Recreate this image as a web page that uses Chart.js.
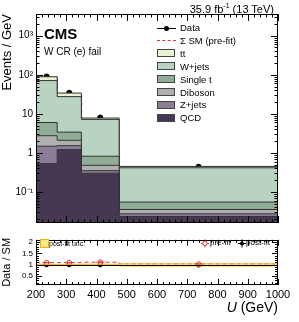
<!DOCTYPE html>
<html>
<head>
<meta charset="utf-8">
<script src="https://cdn.jsdelivr.net/npm/chart.js@4.4.1/dist/chart.umd.min.js"></script>
<style>
body { margin: 0; background: #fff; font-family: "Liberation Sans", Arial, sans-serif; }
#wrap { position: relative; width: 299px; height: 322px; overflow: hidden; }
canvas { position: absolute; left: 0; }
.t { position: absolute; white-space: nowrap; color: #000; line-height: 1; }
.sw { position: absolute; width: 18px; height: 8px; border: 1px solid #444; box-sizing: border-box; }
</style>
</head>
<body>
<div id="wrap">
  <canvas id="main" width="299" height="232" style="top:0"></canvas>
  <canvas id="ratio" width="299" height="90" style="top:232px"></canvas>

  <div class="t" style="left:44px;top:26px;font-size:15px;font-weight:bold">CMS</div>
  <div class="t" style="left:44px;top:47px;font-size:10px">W CR (e) fail</div>
  <div class="t" style="right:25px;top:2px;font-size:11px">35.9 fb<sup style="font-size:7px">-1</sup> (13 TeV)</div>

  <div id="leg"></div>

  <div class="t" style="left:40px;top:239px;width:7px;height:7px;background:#f7e98a;border:1px solid #f0b400"></div>
  <div class="t" style="left:49px;top:240px;font-size:7px">post-fit unc.</div>
  <div class="t" style="left:210px;top:239px;font-size:8px">pre-fit</div>
  <div class="t" style="left:246px;top:239px;font-size:8px">post-fit</div>

  <div class="t" style="right:21px;top:300px;font-size:14px"><i>U</i> (GeV)</div>
</div>

<script>
// bins in U (GeV)
const binEdges = [200, 270, 350, 475, 1000]
const binCenters = [235, 310, 412.5, 737.5]

// events / GeV per process
const qcd = [0.53, 1.21, 0.30, 0.0235]
const zjets = [0.95, 0.32, 0.05, 0.004]
const diboson = [1.27, 0.57, 0.13, 0.008]
const singleTop = [3.25, 1.3, 0.34, 0.0195]
const wjets = [65, 24.2, 6.38, 0.36]
const ttbar = [18, 6.4, 0.6, 0.035]

const dataVals = [90, 34.5, 8.0, 0.44]
const preFitTotal = [85, 32, 7.5, 0.43]

// ratio panel
const ratioPreFit = [1.09, 1.09, 1.11, 1.03]
const ratioPreFitErr = [0.03, 0.04, 0.05, 0.05]
const ratioPostFit = [1.0, 1.0, 1.0, 0.99]
const postFitUnc = [0.01, 0.01, 0.02, 0.05]

const xTicks = [200, 300, 400, 500, 600, 700, 800, 900, 1000]
const yMainTicks = [0.1, 1, 10, 100, 1000]
const yMainLabels = ['10\u207B\u00B9', '1', '10', '10\u00B2', '10\u00B3']
const yRatioTicks = [0.5, 1, 1.5, 2]

const processes = [
    { name: 'QCD', vals: qcd, color: '#463852' },
    { name: 'Z+jets', vals: zjets, color: '#8b7d97' },
    { name: 'Diboson', vals: diboson, color: '#afafaf' },
    { name: 'Single t', vals: singleTop, color: '#8fac94' },
    { name: 'W+jets', vals: wjets, color: '#b9d3c2' },
    { name: 'tt', vals: ttbar, color: '#e7f3d2' }
]

// one point per bin edge, value of bin i held until edge i+1
function stepPoints(vals) {
    let pts = []
    for (let i = 0; i < binEdges.length; i++) {
        pts.push({ x: binEdges[i], y: vals[Math.max(i - 1, 0)] })
    }
    return pts
}

// frame + inward ticks, placed with the chart's scales
const frameTicks = {
    id: 'frameTicks',
    afterDraw(chart, args, opts) {
        const ctx = chart.ctx
        const a = chart.chartArea
        const sx = chart.scales.x
        const sy = chart.scales.y
        ctx.save()
        ctx.strokeStyle = '#000'
        ctx.lineWidth = 1
        function seg(x1, y1, x2, y2) {
            ctx.beginPath(); ctx.moveTo(x1, y1); ctx.lineTo(x2, y2); ctx.stroke()
        }
        for (let v = 200; v <= 1000; v += 20) {
            const px = Math.round(sx.getPixelForValue(v)) + 0.5
            const len = v % 100 === 0 ? opts.xMajor : opts.xMinor
            seg(px, a.bottom, px, a.bottom - len)
            seg(px, a.top, px, a.top + len)
        }
        opts.yTicks(sy).forEach(function (t) {
            const py = Math.round(sy.getPixelForValue(t[0])) + 0.5
            if (py < a.top || py > a.bottom) return
            seg(a.left, py, a.left + t[1], py)
            seg(a.right, py, a.right - t[1], py)
        })
        ctx.strokeRect(Math.round(a.left) + 0.5, Math.round(a.top) + 0.5,
            Math.round(a.right - a.left) - 1, Math.round(a.bottom - a.top) - 1)
        if (opts.extra) opts.extra(chart, ctx)
        ctx.restore()
    }
}

function mainYTicks(sy) {
    let out = []
    for (let e = -2; e <= 3; e++) {
        for (let m = 1; m <= 9; m++) {
            const v = m * Math.pow(10, e)
            if (v >= sy.min && v <= sy.max) out.push([v, m === 1 ? 7 : 3.5])
        }
    }
    return out
}

function ratioYTicks(sy) {
    let out = []
    for (let i = 1; i <= 21; i++) {
        const v = i / 10
        out.push([v, i % 5 === 0 ? 6 : 3])
    }
    return out
}

// main panel
let mainSets = []
let cum = [0, 0, 0, 0]
processes.forEach(function (p, i) {
    cum = cum.map((c, k) => c + p.vals[k])
    mainSets.push({
        label: p.name,
        data: stepPoints(cum),
        stepped: 'after',
        borderColor: '#333',
        borderWidth: 1,
        backgroundColor: p.color,
        fill: i === 0 ? 'start' : '-1',
        pointRadius: 0
    })
})
mainSets.push({
    label: 'SM pre-fit',
    data: stepPoints(preFitTotal),
    stepped: 'after',
    borderColor: '#e8342c',
    borderDash: [4, 3],
    borderWidth: 1.6,
    fill: false,
    pointRadius: 0
})
mainSets.push({
    label: 'Data',
    data: binCenters.map((x, i) => ({ x: x, y: dataVals[i] })),
    showLine: false,
    pointRadius: 2.6,
    pointBackgroundColor: '#000',
    pointBorderColor: '#000',
    fill: false
})

new Chart(document.getElementById('main'), {
    type: 'line',
    data: { datasets: mainSets },
    options: {
        responsive: false,
        animation: false,
        layout: { padding: { top: 14, right: 21, bottom: 9, left: 0 } },
        plugins: {
            legend: { display: false },
            tooltip: { enabled: false },
            frameTicks: { xMajor: 7, xMinor: 3.5, yTicks: mainYTicks }
        },
        scales: {
            x: { type: 'linear', min: 200, max: 1000, display: false },
            y: {
                type: 'logarithmic',
                min: 0.016,
                max: 3600,
                afterFit: function (s) { s.width = 36 },
                afterBuildTicks: function (s) { s.ticks = yMainTicks.map(v => ({ value: v })) },
                ticks: {
                    color: '#000',
                    font: { family: 'Liberation Sans', size: 10 },
                    padding: 3,
                    callback: function (v) {
                        const i = yMainTicks.findIndex(t => Math.abs(t - v) / t < 1e-6)
                        return i >= 0 ? yMainLabels[i] : ''
                    }
                },
                grid: { display: false, drawTicks: false },
                border: { display: false },
                title: {
                    display: true, text: 'Events / GeV', align: 'end', color: '#000',
                    font: { family: 'Liberation Sans', size: 13 }, padding: 0
                }
            }
        }
    },
    plugins: [frameTicks]
})

// ratio panel
const ratioSets = [
    {
        label: 'unc lo',
        data: stepPoints(ratioPostFit.map((r, i) => r - postFitUnc[i])),
        stepped: 'after', borderColor: 'rgba(240,170,0,0.9)', borderWidth: 0.8,
        pointRadius: 0, fill: false
    },
    {
        label: 'unc hi',
        data: stepPoints(ratioPostFit.map((r, i) => r + postFitUnc[i])),
        stepped: 'after', borderColor: 'rgba(240,170,0,0.9)', borderWidth: 0.8,
        backgroundColor: 'rgba(250,225,90,0.55)', pointRadius: 0, fill: '-1'
    },
    {
        label: 'pre-fit line',
        data: stepPoints(ratioPreFit),
        stepped: 'after', borderColor: '#e8342c', borderDash: [4, 3], borderWidth: 1,
        pointRadius: 0, fill: false
    },
    {
        label: 'pre-fit',
        data: binCenters.map((x, i) => ({ x: x, y: ratioPreFit[i] })),
        showLine: false, pointRadius: 2.3, pointBorderWidth: 1,
        pointBorderColor: '#e8342c', pointBackgroundColor: '#fff', fill: false
    },
    {
        label: 'post-fit',
        data: binCenters.map((x, i) => ({ x: x, y: ratioPostFit[i] })),
        showLine: false, pointRadius: 2.2,
        pointBorderColor: '#000', pointBackgroundColor: '#000', fill: false
    }
]

function ratioExtras(chart, ctx) {
    const sx = chart.scales.x
    const sy = chart.scales.y
    const a = chart.chartArea
    // unity line
    ctx.strokeStyle = '#000'
    ctx.lineWidth = 1
    const y1 = Math.round(sy.getPixelForValue(1)) + 0.5
    ctx.beginPath(); ctx.moveTo(a.left, y1); ctx.lineTo(a.right, y1); ctx.stroke()
    // pre-fit error crosses
    ctx.strokeStyle = '#e8342c'
    binCenters.forEach(function (x, i) {
        const px = sx.getPixelForValue(x)
        const py = sy.getPixelForValue(ratioPreFit[i])
        const pe = Math.abs(sy.getPixelForValue(ratioPreFit[i] + ratioPreFitErr[i]) - py)
        ctx.beginPath(); ctx.moveTo(px - 4, py); ctx.lineTo(px + 4, py); ctx.stroke()
        ctx.beginPath(); ctx.moveTo(px, py - pe); ctx.lineTo(px, py + pe); ctx.stroke()
    })
    // legend markers
    ctx.strokeStyle = '#e8342c'
    ctx.fillStyle = '#fff'
    ctx.beginPath(); ctx.moveTo(201, 11.5); ctx.lineTo(209, 11.5); ctx.stroke()
    ctx.beginPath(); ctx.moveTo(205, 7.5); ctx.lineTo(205, 15.5); ctx.stroke()
    ctx.beginPath(); ctx.arc(205, 11.5, 2.2, 0, Math.PI * 2); ctx.fill(); ctx.stroke()
    ctx.strokeStyle = '#000'
    ctx.fillStyle = '#000'
    ctx.beginPath(); ctx.moveTo(238, 11.5); ctx.lineTo(246, 11.5); ctx.stroke()
    ctx.beginPath(); ctx.moveTo(242, 7.5); ctx.lineTo(242, 15.5); ctx.stroke()
    ctx.beginPath(); ctx.arc(242, 11.5, 2, 0, Math.PI * 2); ctx.fill()
}

new Chart(document.getElementById('ratio'), {
    type: 'line',
    data: { datasets: ratioSets },
    options: {
        responsive: false,
        animation: false,
        layout: { padding: { top: 1, right: 21, bottom: 0, left: 0 } },
        plugins: {
            legend: { display: false },
            tooltip: { enabled: false },
            frameTicks: { xMajor: 6, xMinor: 3, yTicks: ratioYTicks, extra: ratioExtras }
        },
        scales: {
            x: {
                type: 'linear', min: 200, max: 1000,
                afterFit: function (s) { s.height = 37 },
                afterBuildTicks: function (s) { s.ticks = xTicks.map(v => ({ value: v })) },
                ticks: {
                    color: '#000', font: { family: 'Liberation Sans', size: 11 },
                    padding: 3, maxRotation: 0, autoSkip: false,
                    callback: function (v) { return String(v) }
                },
                grid: { display: false, drawTicks: false },
                border: { display: false }
            },
            y: {
                min: 0.1, max: 2.1,
                afterFit: function (s) { s.width = 36 },
                afterBuildTicks: function (s) { s.ticks = yRatioTicks.map(v => ({ value: v })) },
                ticks: {
                    color: '#000', font: { family: 'Liberation Sans', size: 8 }, padding: 3,
                    callback: function (v) { return String(v) }
                },
                grid: { display: false, drawTicks: false },
                border: { display: false },
                title: {
                    display: true, text: 'Data / SM', color: '#000',
                    font: { family: 'Liberation Sans', size: 11 }, padding: 0
                }
            }
        }
    },
    plugins: [frameTicks]
})

// main legend
function buildLegend() {
    const leg = document.getElementById('leg')
    const rows = [
        { text: 'Data', kind: 'data' },
        { text: '\u03A3 SM (pre-fit)', kind: 'dash' }
    ]
    processes.slice().reverse().forEach(p => rows.push({ text: p.name, kind: 'box', color: p.color }))
    rows.forEach(function (r, i) {
        const y = 28 + i * 12.9
        if (r.kind === 'box') {
            const s = document.createElement('div')
            s.className = 'sw'
            s.style.left = '157px'
            s.style.top = (y - 4.5) + 'px'
            s.style.background = r.color
            leg.appendChild(s)
        } else if (r.kind === 'data') {
            const l = document.createElement('div')
            l.className = 't'
            l.style.cssText = 'left:157px;top:' + (y - 0.5) + 'px;width:19px;height:1px;background:#000'
            leg.appendChild(l)
            const d = document.createElement('div')
            d.className = 't'
            d.style.cssText = 'left:164px;top:' + (y - 2.5) + 'px;width:5px;height:5px;border-radius:50%;background:#000'
            leg.appendChild(d)
        } else {
            const l = document.createElement('div')
            l.className = 't'
            l.style.cssText = 'left:157px;top:' + (y - 0.5) + 'px;width:19px;height:0;border-top:1.3px dashed #e8342c'
            leg.appendChild(l)
        }
        const t = document.createElement('div')
        t.className = 't'
        t.style.left = '180px'
        t.style.top = (y - 5) + 'px'
        t.style.fontSize = '9.5px'
        t.textContent = r.text
        leg.appendChild(t)
    })
}
buildLegend()
</script>
</body>
</html>
